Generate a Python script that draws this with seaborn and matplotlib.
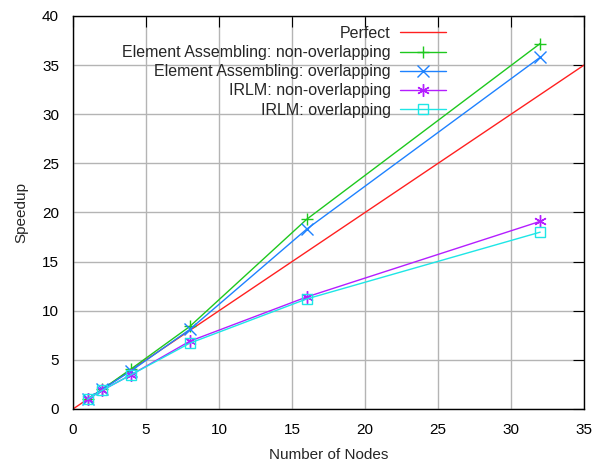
import matplotlib
matplotlib.use('Agg')
import matplotlib.pyplot as plt
import seaborn as sns
import pandas as pd

# data
nodes = [1, 2, 4, 8, 16, 32]
perfect_x = [0, 35]
perfect_y = [0, 35]
ea_nonoverlap = [1.0, 2.0, 4.1, 8.4, 19.3, 37.2]
ea_overlap = [1.0, 2.0, 3.9, 8.1, 18.3, 35.8]
irlm_nonoverlap = [1.0, 1.9, 3.5, 6.9, 11.4, 19.1]
irlm_overlap = [1.0, 1.9, 3.5, 6.7, 11.2, 18.0]

labels = ['Element Assembling: non-overlapping',
          'Element Assembling: overlapping',
          'IRLM: non-overlapping',
          'IRLM: overlapping']
series = [ea_nonoverlap, ea_overlap, irlm_nonoverlap, irlm_overlap]
colors = ['#1ec81e', '#1e82ff', '#b41eff', '#1ee6e6']
markers = ['+', 'x', (6, 2, 0), 's']
msizes = [9, 9, 9, 7.5]

sns.set_style('white')
plt.rcParams['font.family'] = ['Liberation Sans', 'DejaVu Sans']

fig = plt.figure(figsize=(5.93, 4.66), dpi=100)
ax = fig.add_axes([73 / 593, 1 - 409 / 466, (584 - 73) / 593, (409 - 16) / 466])

sns.lineplot(x=perfect_x, y=perfect_y, ax=ax, color='#ff2020', lw=1,
             label='Perfect')
for vals, lab, c, m, ms in zip(series, labels, colors, markers, msizes):
    df = pd.DataFrame({'nodes': nodes, 'speedup': vals})
    mfc = 'none' if m == 's' else c
    sns.lineplot(data=df, x='nodes', y='speedup', ax=ax, color=c, lw=1,
                 marker=m, markersize=ms, markerfacecolor=mfc,
                 markeredgecolor=c, markeredgewidth=1, label=lab)

ax.set_xlim(0, 35)
ax.set_ylim(0, 40)
ax.set_xticks(range(0, 36, 5))
ax.set_yticks(range(0, 41, 5))
ax.grid(True, color='#b4b4b4', lw=1)
ax.set_axisbelow(True)
for s in ax.spines.values():
    s.set_color('black')
    s.set_linewidth(1)
ax.tick_params(direction='in', length=8, top=True, right=True,
               labelsize=11, colors='black', pad=10)
ax.set_xlabel('Number of Nodes', fontsize=11, labelpad=8)
ax.set_ylabel('Speedup', fontsize=11, labelpad=10)

ax.legend(loc='upper right', bbox_to_anchor=(446 / 593, 1 - 26 / 466),
          bbox_transform=fig.transFigure, frameon=False, markerfirst=False,
          fontsize=11.5, handlelength=2.9, labelspacing=0.26,
          borderaxespad=0, handletextpad=0.55, borderpad=0)

fig.savefig('out.png', dpi=100)
